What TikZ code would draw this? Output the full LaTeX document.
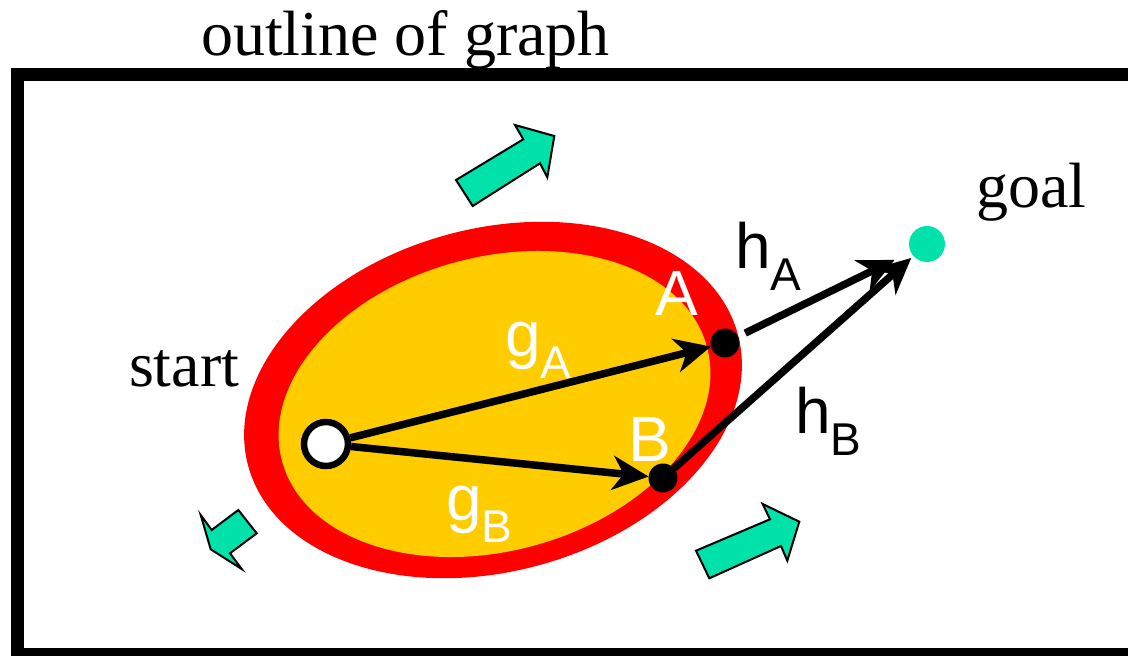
\documentclass[tikz,border=0pt]{standalone}
\usepackage{fontspec}
\setmainfont{Liberation Serif}
\setsansfont{Liberation Sans}
\usetikzlibrary{arrows.meta, shapes.geometric}

\newcommand{\subLabel}[2]{#1\raisebox{-22pt}{\fontsize{46}{46}\selectfont #2}}

\begin{document}
\begin{tikzpicture}[
    x=1pt, y=-1pt,
    >=Stealth,
    every node/.style={inner sep=0pt, outer sep=0pt},
    frame/.style={draw=black, line width=13pt},
    region/.style={ellipse, rotate=15, inner sep=0pt},
    dot/.style={circle, fill=black, minimum size=29pt},
    startDot/.style={circle, draw=black, fill=white, line width=6.5pt,
      minimum size=44pt, outer sep=3.25pt},
    goalDot/.style={circle, fill=goalTone, minimum size=36pt},
    serifLabel/.style={font=\fontsize{64}{64}\selectfont\rmfamily, anchor=base west},
    sansLabel/.style={font=\fontsize{64}{64}\selectfont\sffamily, anchor=base west},
    arr/.style={-{Stealth[length=36pt, width=34pt, inset=11pt]}, line width=7.5pt},
    blockArrow/.style={draw=black, fill=goalTone, line width=2pt, line join=miter}
  ]
    \definecolor{goalTone}{RGB}{0,226,170}
    \definecolor{ringRed}{RGB}{255,0,0}
    \definecolor{openYellow}{RGB}{255,204,0}

    \useasboundingbox (0,0) rectangle (1128,656);
    \draw[frame] (17.5,74) rectangle (1150,654.5);
    \node[serifLabel] (title) at (201,55) {outline of graph};

    % searched region
    \node[region, fill=ringRed, minimum width=507pt, minimum height=343pt] (outer) at (493,400) {};
    \node[region, fill=openYellow, minimum width=440pt, minimum height=294pt] (inner) at (494.5,404) {};

    \node[startDot] (start) at (326,444) {};
    \node[dot] (A) at (725,343) {};
    \node[dot] (B) at (663,478) {};
    \node[goalDot] (goal) at (927,244) {};

    \node[serifLabel] (startLabel) at (129,386) {start};
    \node[serifLabel] (goalLabel) at (976,207) {goal};

    \node[sansLabel, text=white] (labelA) at (655,315) {A};
    \node[sansLabel, text=white] (labelB) at (628,461) {B};
    \node[sansLabel, text=white] (gA) at (505,356) {\subLabel{g}{A}};
    \node[sansLabel, text=white] (gB) at (446,520) {\subLabel{g}{B}};
    \node[sansLabel] (hA) at (735,268) {\subLabel{h}{A}};
    \node[sansLabel] (hB) at (795,433) {\subLabel{h}{B}};

    \draw[arr] (start) -- (A);
    \draw[arr] (start) -- (B);
    \draw[arr, shorten <=8pt, shorten >=18pt] (A) -- (goal);
    \draw[arr, shorten >=3pt] (B) -- (goal);

    % expansion directions
    \draw[blockArrow] (456,180) -- (523.3,139.3) -- (515,125) -- (554.3,136)
      -- (547.3,177.3) -- (540,163.3) -- (472.7,206) -- cycle;
    \draw[blockArrow] (696,550.7) -- (770,519.3) -- (762.7,504) -- (799.3,521.7)
      -- (787.3,560.7) -- (781,546) -- (709.3,578.3) -- cycle;
    \draw[blockArrow] (238.3,510) -- (256.7,533.3) -- (230,553.3) -- (241.7,569)
      -- (210.7,549.3) -- (200.7,515) -- (211.7,530) -- cycle;
  \end{tikzpicture}
\end{document}
